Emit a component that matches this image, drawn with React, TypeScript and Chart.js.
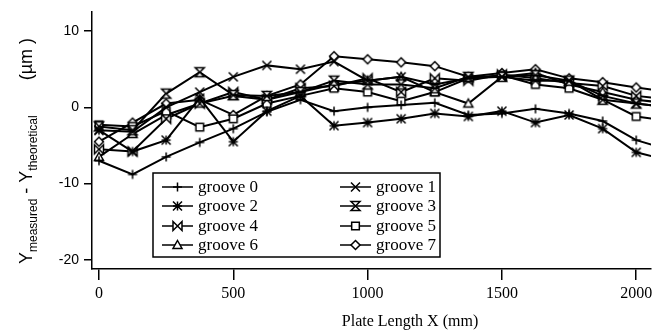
import React, { useEffect, useRef } from 'react';
import { Chart, registerables } from 'chart.js';

Chart.register(...registerables);

const xPositions = [0, 125, 250, 375, 500, 625, 750, 875, 1000, 1125, 1250, 1375, 1500, 1625, 1750, 1875, 2000, 2125];
const groove0 = [-7.0, -8.8, -6.5, -4.6, -2.8, -0.6, 1.0, -0.5, 0.0, 0.3, 0.6, -1.0, -0.8, -0.2, -0.8, -1.8, -4.3, -5.6];
const groove1 = [-3.0, -3.2, 0.0, 2.0, 4.0, 5.5, 5.0, 6.0, 3.5, 4.0, 3.0, 3.8, 4.0, 3.5, 3.5, 1.5, 0.5, 0.0];
const groove2 = [-3.0, -5.8, -4.3, 1.2, -4.5, -0.5, 1.5, -2.4, -2.0, -1.5, -0.8, -1.2, -0.5, -2.0, -1.0, -2.8, -5.9, -7.0];
const groove3 = [-2.5, -3.0, 1.8, 4.6, 1.6, 1.5, 2.0, 3.5, 3.0, 3.0, 2.5, 4.0, 4.0, 4.2, 3.5, 1.0, 0.5, 0.0];
const groove4 = [-5.5, -5.8, -1.5, 0.5, 2.0, 1.0, 2.5, 2.8, 3.8, 2.0, 3.8, 3.5, 4.3, 3.8, 3.2, 2.8, 1.5, 1.0];
const groove5 = [-2.3, -2.5, -0.5, -2.6, -1.5, 0.5, 1.5, 2.5, 2.0, 0.8, 2.0, 3.8, 4.2, 3.0, 2.5, 1.0, -1.2, -1.8];
const groove6 = [-6.5, -3.5, -1.0, 0.5, 1.5, 1.0, 2.0, 3.0, 3.5, 4.0, 2.0, 0.5, 4.0, 4.5, 3.0, 2.0, 1.0, 0.5];
const groove7 = [-4.5, -2.0, 0.5, 1.0, -1.0, 1.5, 3.0, 6.7, 6.3, 5.9, 5.4, 4.0, 4.5, 5.0, 3.8, 3.3, 2.6, 2.0];

const seriesValues = [groove0, groove1, groove2, groove3, groove4, groove5, groove6, groove7];
const seriesNames = ['groove 0', 'groove 1', 'groove 2', 'groove 3', 'groove 4', 'groove 5', 'groove 6', 'groove 7'];
const markerKinds = ['plus', 'cross', 'star', 'hourglass', 'bowtie', 'square', 'triangle', 'diamond'];

const xTicks = [0, 500, 1000, 1500, 2000];
const yTicks = [-20, -10, 0, 10];
const xTitle = 'Plate Length X (mm)';

function drawMarker(ctx: CanvasRenderingContext2D, kind: string, cx: number, cy: number, r: number) {
  ctx.save();
  ctx.strokeStyle = '#000';
  ctx.fillStyle = '#fff';
  ctx.lineWidth = 1.5;
  ctx.beginPath();
  let fill = true;
  switch (kind) {
    case 'plus':
      fill = false;
      ctx.moveTo(cx - r, cy); ctx.lineTo(cx + r, cy);
      ctx.moveTo(cx, cy - r); ctx.lineTo(cx, cy + r);
      break;
    case 'cross':
      fill = false;
      ctx.moveTo(cx - r, cy - r); ctx.lineTo(cx + r, cy + r);
      ctx.moveTo(cx + r, cy - r); ctx.lineTo(cx - r, cy + r);
      break;
    case 'star':
      fill = false;
      ctx.moveTo(cx - r, cy - r); ctx.lineTo(cx + r, cy + r);
      ctx.moveTo(cx + r, cy - r); ctx.lineTo(cx - r, cy + r);
      ctx.moveTo(cx, cy - r); ctx.lineTo(cx, cy + r);
      ctx.moveTo(cx - r, cy); ctx.lineTo(cx + r, cy);
      break;
    case 'hourglass':
      ctx.moveTo(cx - r, cy - r); ctx.lineTo(cx + r, cy - r);
      ctx.lineTo(cx - r, cy + r); ctx.lineTo(cx + r, cy + r);
      ctx.closePath();
      break;
    case 'bowtie':
      ctx.moveTo(cx - r, cy - r); ctx.lineTo(cx + r, cy + r);
      ctx.lineTo(cx + r, cy - r); ctx.lineTo(cx - r, cy + r);
      ctx.closePath();
      break;
    case 'square': {
      const s = r * 0.85;
      ctx.rect(cx - s, cy - s, 2 * s, 2 * s);
      break;
    }
    case 'triangle':
      ctx.moveTo(cx, cy - r); ctx.lineTo(cx + r, cy + r * 0.75);
      ctx.lineTo(cx - r, cy + r * 0.75); ctx.closePath();
      break;
    case 'diamond':
      ctx.moveTo(cx, cy - r); ctx.lineTo(cx + r, cy);
      ctx.lineTo(cx, cy + r); ctx.lineTo(cx - r, cy); ctx.closePath();
      break;
  }
  if (fill) ctx.fill();
  ctx.stroke();
  ctx.restore();
}

function makeMarkerCanvas(kind: string): HTMLCanvasElement {
  const c = document.createElement('canvas');
  c.width = 14;
  c.height = 14;
  const ctx = c.getContext('2d')!;
  drawMarker(ctx, kind, 7, 7, 4.5);
  return c;
}

const decorPlugin = {
  id: 'decor',
  afterDraw(chart: any) {
    const ctx: CanvasRenderingContext2D = chart.ctx;
    ctx.save();
    ctx.fillStyle = '#000';

    // x title
    ctx.font = '16px "Liberation Serif"';
    ctx.textAlign = 'center';
    ctx.textBaseline = 'middle';
    ctx.fillText(xTitle, 410, 322);

    // y title with subscripts (rotated)
    const parts = [
      { t: 'Y', f: '18px "Liberation Sans"', dy: 0 },
      { t: 'measured', f: '12px "Liberation Sans"', dy: 5 },
      { t: ' - ', f: '18px "Liberation Sans"', dy: 0 },
      { t: 'Y', f: '18px "Liberation Sans"', dy: 0 },
      { t: 'theoretical', f: '12px "Liberation Sans"', dy: 5 },
      { t: '       (\u00b5m )', f: '18px "Liberation Sans"', dy: 0 },
    ];
    let total = 0;
    const widths = parts.map((p) => { ctx.font = p.f; const w = ctx.measureText(p.t).width; total += w; return w; });
    ctx.translate(32, 151);
    ctx.rotate(-Math.PI / 2);
    ctx.textAlign = 'left';
    ctx.textBaseline = 'alphabetic';
    let pos = -total / 2;
    parts.forEach((p, i) => {
      ctx.font = p.f;
      ctx.fillText(p.t, pos, p.dy);
      pos += widths[i];
    });
    ctx.setTransform(1, 0, 0, 1, 0, 0);

    // legend
    const bx = 153, by = 173, bw = 287, bh = 84;
    ctx.fillStyle = '#fff';
    ctx.fillRect(bx, by, bw, bh);
    ctx.strokeStyle = '#000';
    ctx.lineWidth = 1.5;
    ctx.strokeRect(bx, by, bw, bh);
    const rowsY = [187, 206, 226, 245];
    const colX = [162, 340];
    ctx.font = '17px "Liberation Serif"';
    ctx.textBaseline = 'middle';
    ctx.textAlign = 'left';
    seriesNames.forEach((name, i) => {
      const col = i % 2;
      const row = Math.floor(i / 2);
      const x0 = colX[col];
      const y = rowsY[row];
      ctx.strokeStyle = '#000';
      ctx.lineWidth = 1.5;
      ctx.beginPath();
      ctx.moveTo(x0, y);
      ctx.lineTo(x0 + 31, y);
      ctx.stroke();
      drawMarker(ctx, markerKinds[i], x0 + 15.5, y, 4.5);
      ctx.fillStyle = '#000';
      ctx.fillText(name, x0 + 36, y + 1);
    });
    ctx.restore();
  },
};

export default function App() {
  const ref = useRef<HTMLCanvasElement>(null);
  useEffect(() => {
    if (!ref.current) return;
    const datasets = seriesValues.map((vals, i) => ({
      label: seriesNames[i],
      data: xPositions.map((x, j) => ({ x, y: vals[j] })),
      borderColor: '#000',
      borderWidth: 2,
      pointStyle: makeMarkerCanvas(markerKinds[i]) as any,
      pointRadius: 5,
      tension: 0,
      fill: false,
    }));
    const chart = new Chart(ref.current, {
      type: 'line',
      data: { datasets },
      options: {
        animation: false,
        responsive: false,
        devicePixelRatio: 1,
        layout: { padding: { top: 12, left: 0, right: 0, bottom: 0 } },
        plugins: { legend: { display: false }, tooltip: { enabled: false } },
        scales: {
          x: {
            type: 'linear',
            min: -26,
            max: 2055,
            afterBuildTicks: (s: any) => { s.ticks = xTicks.map((v) => ({ value: v })); },
            afterFit: (s: any) => { s.height = 63; s.paddingLeft = 0; s.paddingRight = 0; },
            grid: { display: true, drawOnChartArea: false, drawTicks: true, tickLength: 11, color: '#000', lineWidth: 1.5 },
            border: { display: true, color: '#000', width: 1.5 },
            ticks: {
              color: '#000',
              font: { family: '"Liberation Serif"', size: 16 },
              padding: 4,
              maxRotation: 0,
              autoSkip: false,
              callback: (v: any) => String(v),
            },
          },
          y: {
            type: 'linear',
            min: -21.2,
            max: 12.5,
            afterBuildTicks: (s: any) => { s.ticks = yTicks.map((v) => ({ value: v })); },
            afterFit: (s: any) => { s.width = 92; s.paddingTop = 0; s.paddingBottom = 0; },
            grid: { display: true, drawOnChartArea: false, drawTicks: true, tickLength: 8, color: '#000', lineWidth: 1.5 },
            border: { display: true, color: '#000', width: 1.5 },
            ticks: {
              color: '#000',
              font: { family: '"Liberation Sans"', size: 14 },
              padding: 5,
              autoSkip: false,
              callback: (v: any) => String(v),
            },
          },
        },
      },
      plugins: [decorPlugin],
    });
    return () => chart.destroy();
  }, []);
  return (
    <div style={{ position: 'absolute', left: 0, top: 0, width: 658, height: 332, background: '#fff' }}>
      <canvas ref={ref} width={658} height={332} style={{ display: 'block' }} />
    </div>
  );
}
